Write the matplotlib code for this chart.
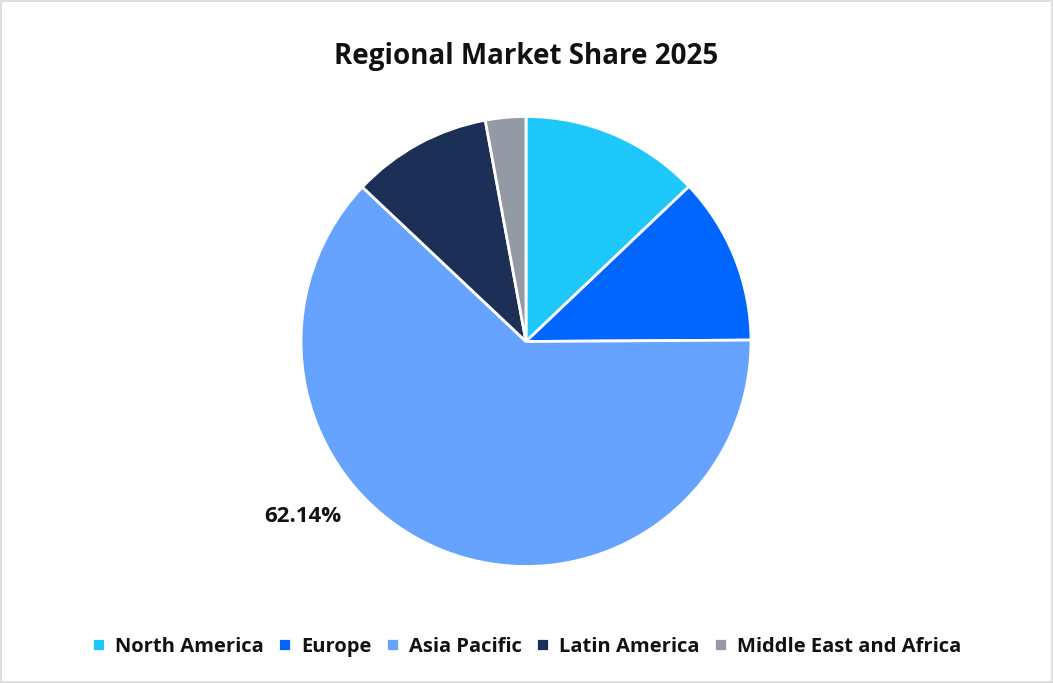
import numpy as np
import matplotlib
matplotlib.use("Agg")
import matplotlib.pyplot as plt
from matplotlib.patches import Rectangle

plt.rcParams['font.family'] = ['Open Sans', 'DejaVu Sans']

categories = ["North America", "Europe", "Asia Pacific", "Latin America", "Middle East and Africa"]
shares = [12.9, 12.0, 62.14, 10.06, 2.9]
colors = ["#1FC8FA", "#0066FF", "#66A3FF", "#1C3057", "#9499A6"]
shown_label = "62.14%"

fig = plt.figure(figsize=(10.53, 6.83), dpi=100)
fig.patches.append(Rectangle((0.001, 0.001), 0.998, 0.998, transform=fig.transFigure,
                             fill=False, edgecolor="#D9D9D9", linewidth=1.2))

ax = fig.add_axes([(526 - 225) / 1053, (683 - 341.5 - 225) / 683, 450 / 1053, 450 / 683])
wedges, _ = ax.pie(shares, colors=colors, startangle=90, counterclock=False,
                   radius=1.0, wedgeprops=dict(edgecolor="white", linewidth=2))
ax.set_xlim(-1.0, 1.0)
ax.set_ylim(-1.0, 1.0)
ax.set_aspect('equal')

# data label for Asia Pacific
ang = np.deg2rad(218)
ax.text(1.26 * np.cos(ang), 1.26 * np.sin(ang), shown_label, ha='center', va='center',
        fontsize=16, fontweight='bold', color='#111111')

fig.text(0.5, 0.917, "Regional Market Share 2025", ha='center', va='center',
         fontsize=20, fontweight='bold', color='#111111')

leg = fig.legend(wedges, categories, loc='center', bbox_to_anchor=(0.5, 0.053),
                 ncol=5, frameon=False, handlelength=0.65, handleheight=0.65,
                 handletextpad=0.5, columnspacing=0.7,
                 prop=dict(size=14.5, weight='bold'))
for t in leg.get_texts():
    t.set_color('#111111')

fig.savefig("out.png", dpi=100)
